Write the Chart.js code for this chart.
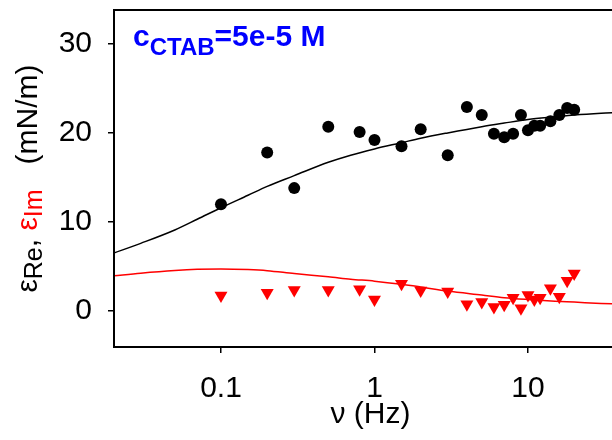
<!DOCTYPE html>
<html>
<head>
<meta charset="utf-8">
<script src="https://cdn.jsdelivr.net/npm/chart.js@4"></script>
<style>
  html, body { margin: 0; padding: 0; background: #fff; }
  #wrap { width: 612px; height: 440px; }
</style>
</head>
<body>
<div id="wrap"><canvas id="chart"></canvas></div>
<script>
// measured points
const freq = [0.1, 0.2, 0.3, 0.5, 0.8, 1, 1.5, 2, 3, 4, 5, 6, 7, 8, 9, 10, 11, 12, 14, 16, 18, 20];
const epsRe = [12.0, 17.8, 13.8, 20.7, 20.1, 19.2, 18.5, 20.4, 17.5, 22.9, 22.0, 19.9, 19.5, 19.9, 22.0, 20.3, 20.8, 20.8, 21.3, 22.0, 22.8, 22.6];
const epsIm = [1.75, 2.05, 2.35, 2.35, 2.45, 1.3, 3.05, 2.3, 2.2, 0.75, 1.0, 0.45, 0.7, 1.5, 0.3, 1.8, 1.3, 1.5, 2.55, 1.6, 3.4, 4.2];

// fitted curves
const fitFreq = [0.02, 0.03, 0.05, 0.07, 0.1, 0.15, 0.2, 0.3, 0.5, 0.7, 1, 1.5, 2, 3, 5, 7, 10, 15, 20, 30, 40];
const fitRe = [6.5, 7.6, 9.1, 10.3, 11.6, 13.0, 14.0, 15.2, 16.7, 17.5, 18.2, 18.9, 19.4, 20.0, 20.7, 21.1, 21.5, 21.8, 22.0, 22.2, 22.3];
const fitIm = [3.95, 4.25, 4.55, 4.68, 4.72, 4.65, 4.53, 4.2, 3.85, 3.58, 3.35, 3.0, 2.7, 2.25, 1.8, 1.5, 1.29, 1.1, 1.0, 0.85, 0.77];

const xTicks = [0.1, 1, 10];
const yTicks = [0, 10, 20, 30];

const FONT = '"Liberation Sans", Arial, sans-serif';

function toXY(xs, ys) {
    return xs.map((x, i) => ({ x: x, y: ys[i] }));
}

function fontStr(p) {
    return (p.bold ? 'bold ' : '') + p.size + 'px ' + FONT;
}

function richWidth(ctx, parts) {
    let w = 0;
    for (const p of parts) {
        ctx.font = fontStr(p);
        w += ctx.measureText(p.t).width;
    }
    return w;
}

function drawRich(ctx, parts, x, y) {
    let cx = x;
    for (const p of parts) {
        ctx.font = fontStr(p);
        ctx.fillStyle = p.color || '#000';
        ctx.fillText(p.t, cx, y + (p.dy || 0));
        cx += ctx.measureText(p.t).width;
    }
}

// no extra room for half tick labels, the box is placed by hand
function noPad(s) {
    s.paddingTop = 0;
    s.paddingBottom = 0;
    s.paddingLeft = 0;
    s.paddingRight = 0;
}

const decorPlugin = {
    id: 'decor',
    afterDraw(chart) {
        const ctx = chart.ctx;
        const a = chart.chartArea;
        ctx.save();

        // frame: left, top, bottom (right side runs off the picture)
        ctx.strokeStyle = '#000';
        ctx.lineWidth = 2;
        ctx.beginPath();
        ctx.moveTo(a.right + 2, a.top);
        ctx.lineTo(a.left, a.top);
        ctx.lineTo(a.left, a.bottom);
        ctx.lineTo(a.right + 2, a.bottom);
        ctx.stroke();

        ctx.textBaseline = 'alphabetic';
        ctx.textAlign = 'left';

        // concentration label
        const blue = '#0000ff';
        drawRich(ctx, [
            { t: 'c', size: 30, bold: true, color: blue },
            { t: 'CTAB', size: 24, bold: true, color: blue, dy: 9 },
            { t: '=5e-5 M', size: 30, bold: true, color: blue }
        ], a.left + 19, a.top + 36);

        // x title
        const xParts = [{ t: 'ν (Hz)', size: 30 }];
        const xw = richWidth(ctx, xParts);
        drawRich(ctx, xParts, chart.scales.x.getPixelForValue(1) - 4 - xw / 2, 423);

        // y title
        const yParts = [
            { t: 'ε', size: 30 },
            { t: 'Re', size: 25, dy: 5 },
            { t: ', ', size: 30 },
            { t: 'ε', size: 30, color: '#ff0000' },
            { t: 'Im', size: 25, dy: 5, color: '#ff0000' },
            { t: '   (mN/m)', size: 30 }
        ];
        const yw = richWidth(ctx, yParts);
        ctx.translate(37, (a.top + a.bottom) / 2);
        ctx.rotate(-Math.PI / 2);
        drawRich(ctx, yParts, -yw / 2, 0);

        ctx.restore();
    }
};

new Chart(document.getElementById('chart').getContext('2d'), {
    type: 'scatter',
    data: {
        datasets: [
            {
                label: 'fit Re',
                data: toXY(fitFreq, fitRe),
                showLine: true,
                pointRadius: 0,
                borderColor: '#000',
                borderWidth: 1.5,
                cubicInterpolationMode: 'monotone',
                order: 2
            },
            {
                label: 'fit Im',
                data: toXY(fitFreq, fitIm),
                showLine: true,
                pointRadius: 0,
                borderColor: '#ff0000',
                borderWidth: 1.5,
                cubicInterpolationMode: 'monotone',
                order: 2
            },
            {
                label: 'eps Re',
                data: toXY(freq, epsRe),
                pointStyle: 'circle',
                pointRadius: 6,
                backgroundColor: '#000',
                borderColor: '#000',
                borderWidth: 0,
                order: 1
            },
            {
                label: 'eps Im',
                data: toXY(freq, epsIm),
                pointStyle: 'triangle',
                rotation: 180,
                pointRadius: 7.5,
                backgroundColor: '#ff0000',
                borderColor: '#ff0000',
                borderWidth: 0,
                order: 1
            }
        ]
    },
    options: {
        responsive: true,
        maintainAspectRatio: false,
        animation: false,
        layout: { autoPadding: false, padding: { top: 10, right: 0, left: 0, bottom: 0 } },
        plugins: {
            legend: { display: false },
            tooltip: { enabled: false }
        },
        scales: {
            x: {
                type: 'logarithmic',
                min: 0.02009,
                max: 35.27,
                afterFit: s => { s.height = 93; noPad(s); },
                afterBuildTicks: s => { s.ticks = xTicks.map(v => ({ value: v })); },
                border: { display: false },
                grid: {
                    display: true,
                    drawOnChartArea: false,
                    drawTicks: true,
                    tickLength: 6,
                    color: '#000',
                    lineWidth: 1.5
                },
                ticks: {
                    color: '#000',
                    padding: 18,
                    maxRotation: 0,
                    autoSkip: false,
                    font: { family: FONT, size: 30 },
                    callback: v => String(v)
                }
            },
            y: {
                min: -4.04,
                max: 33.8,
                afterFit: s => { s.width = 114; noPad(s); },
                afterBuildTicks: s => { s.ticks = yTicks.map(v => ({ value: v })); },
                border: { display: false },
                grid: {
                    display: true,
                    drawOnChartArea: false,
                    drawTicks: true,
                    tickLength: 6,
                    color: '#000',
                    lineWidth: 1.5
                },
                ticks: {
                    color: '#000',
                    padding: 16,
                    font: { family: FONT, size: 30 },
                    callback: v => String(v)
                }
            }
        }
    },
    plugins: [decorPlugin]
});
</script>
</body>
</html>
